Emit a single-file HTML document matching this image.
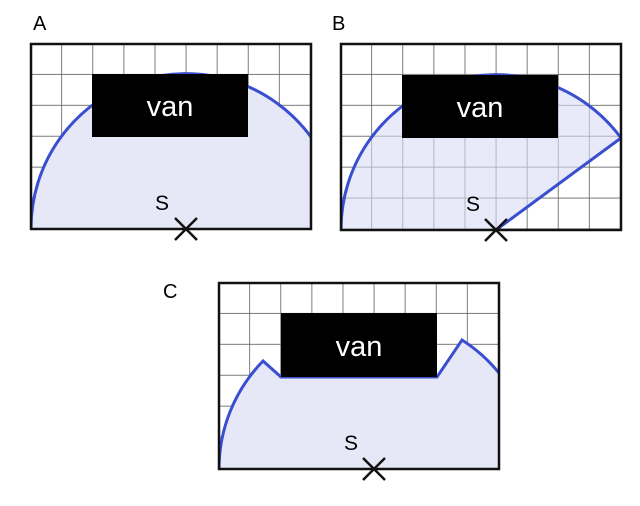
<!DOCTYPE html>
<html><head><style>body{margin:0;background:#fff}</style></head><body>
<svg width="640" height="501" xmlns="http://www.w3.org/2000/svg" font-family="Liberation Sans, sans-serif">
<defs>
<pattern id="g" x="0" y="0" width="31.1" height="30.9" patternUnits="userSpaceOnUse">
<path d="M31.1 0V30.9M0 30.9H31.1" stroke="#666" stroke-width="1.7" fill="none"/>
</pattern>
<clipPath id="ca"><rect x="31" y="44" width="280" height="185"/></clipPath>
<clipPath id="cb"><rect x="341" y="44" width="280" height="186"/></clipPath>
<clipPath id="cc"><rect x="219" y="283" width="280" height="186"/></clipPath>
</defs>
<text x="33" y="30" font-size="20">A</text>
<text x="332" y="30" font-size="20">B</text>
<text x="163" y="298" font-size="20">C</text>

<!-- A -->
<g transform="translate(31,44)"><rect width="280" height="185" fill="url(#g)"/></g>
<g clip-path="url(#ca)">
<path d="M31 229 A155 155 0 0 1 311 137 L311 229 Z" fill="#e6e8f8"/>
<path d="M31 229 A155 155 0 0 1 311 137" fill="none" stroke="#3a4fd0" stroke-width="3"/>
</g>
<rect x="31" y="44" width="280" height="185" fill="none" stroke="#111" stroke-width="2.5"/>
<rect x="92" y="74" width="156" height="63" fill="#000"/>
<text x="170" y="116" font-size="29" fill="#fff" text-anchor="middle">van</text>
<text x="162" y="210" font-size="21" text-anchor="middle">S</text>
<path d="M175 218L197 240M197 218L175 240" stroke="#111" stroke-width="2.5"/>

<!-- B -->
<g transform="translate(341,44)"><rect width="280" height="186" fill="url(#g)"/></g>
<g clip-path="url(#cb)">
<path d="M341 230 A155 155 0 0 1 621 138 L496 230 Z" fill="#d8dcf5" fill-opacity="0.6"/>
<path d="M341 230 A155 155 0 0 1 621 138 L496 230" fill="none" stroke="#3a4fd0" stroke-width="3"/>
</g>
<rect x="341" y="44" width="280" height="186" fill="none" stroke="#111" stroke-width="2.5"/>
<rect x="402" y="75" width="156" height="63" fill="#000"/>
<text x="480" y="117" font-size="29" fill="#fff" text-anchor="middle">van</text>
<text x="473" y="211" font-size="21" text-anchor="middle">S</text>
<path d="M485 219L507 241M507 219L485 241" stroke="#111" stroke-width="2.5"/>

<!-- C -->
<g transform="translate(219,283)"><rect width="280" height="186" fill="url(#g)"/></g>
<g clip-path="url(#cc)">
<path d="M219 469 A155 155 0 0 1 263 361 L281 377 L437 377 L462 340 A155 155 0 0 1 499 373 L499 469 Z" fill="#e6e8f8"/>
<path d="M219 469 A155 155 0 0 1 263 361 L281 377 L437 377 L462 340 A155 155 0 0 1 499 373" fill="none" stroke="#3a4fd0" stroke-width="3"/>
</g>
<rect x="219" y="283" width="280" height="186" fill="none" stroke="#111" stroke-width="2.5"/>
<rect x="281" y="313" width="156" height="64" fill="#000"/>
<text x="359" y="356" font-size="29" fill="#fff" text-anchor="middle">van</text>
<text x="351" y="450" font-size="21" text-anchor="middle">S</text>
<path d="M363 458L385 480M385 458L363 480" stroke="#111" stroke-width="2.5"/>
</svg>
</body></html>
